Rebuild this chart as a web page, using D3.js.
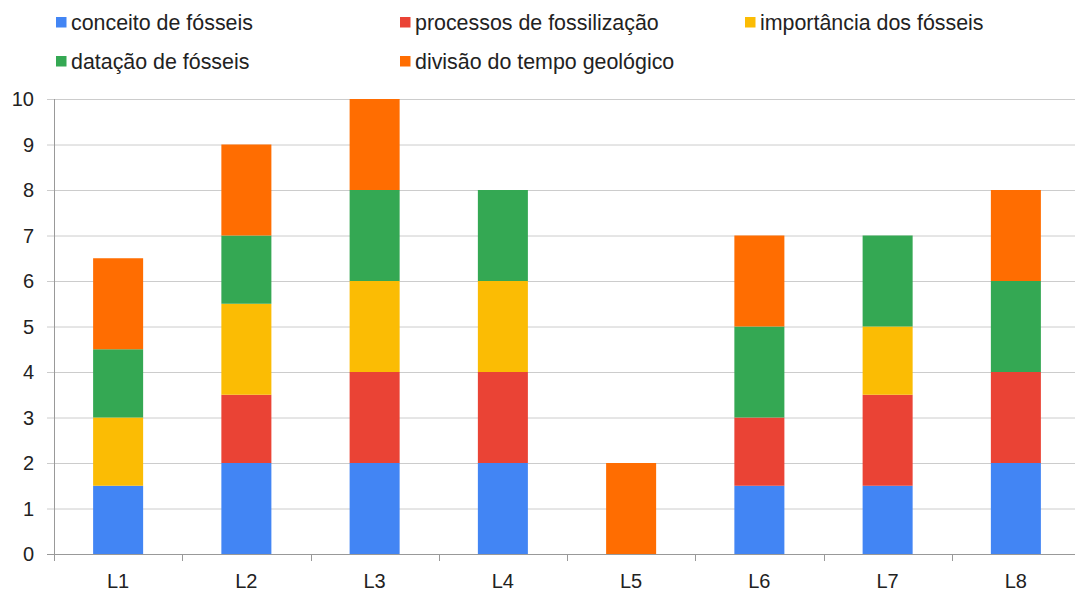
<!DOCTYPE html>
<html>
<head>
<meta charset="utf-8">
<script src="https://cdn.jsdelivr.net/npm/d3@7"></script>
<style>
  body { margin: 0; background: #fff; }
  text { font-family: "Liberation Sans", Arial, sans-serif; fill: #222; }
</style>
</head>
<body>
<svg id="chart" width="1075" height="592"></svg>
<script>
// categorias e séries
const categories = ["L1", "L2", "L3", "L4", "L5", "L6", "L7", "L8"]
const seriesNames = ["conceito de fósseis", "processos de fossilização", "importância dos fósseis", "datação de fósseis", "divisão do tempo geológico"]
const conceito    = [1.5, 2,   2, 2, 0, 1.5, 1.5, 2]
const processos   = [0,   1.5, 2, 2, 0, 1.5, 2,   2]
const importancia = [1.5, 2,   2, 2, 0, 0,   1.5, 0]
const datacao     = [1.5, 1.5, 2, 2, 0, 2,   2,   2]
const divisao     = [2,   2,   2, 0, 2, 2,   0,   2]
const yTicks = [0, 1, 2, 3, 4, 5, 6, 7, 8, 9, 10]
const colors = ["#4285F4", "#EA4335", "#FBBC04", "#34A853", "#FF6D01"]

let svg = d3.select("#chart")

let rows = categories.map((c, i) => {
	let r = { cat: c }
	r[seriesNames[0]] = conceito[i]
	r[seriesNames[1]] = processos[i]
	r[seriesNames[2]] = importancia[i]
	r[seriesNames[3]] = datacao[i]
	r[seriesNames[4]] = divisao[i]
	return r
})
let stacked = d3.stack().keys(seriesNames)(rows)

let pLeft = 54, pRight = 1080, pTop = 99, pBottom = 554

let x = d3.scaleBand().domain(categories).range([pLeft, pRight]).paddingInner(0.61).paddingOuter(0.305)
let xb = d3.scaleBand().domain(categories).range([pLeft, pRight])
let y = d3.scaleLinear().domain([0, 10]).range([pBottom, pTop])

// grade
svg.append("g")
	.selectAll("line")
	.data(yTicks)
	.join("line")
	.attr("x1", pLeft - 7)
	.attr("x2", pRight)
	.attr("y1", d => y(d) + 0.5)
	.attr("y2", d => y(d) + 0.5)
	.attr("stroke", d => d === 0 ? "#999" : "#ccc")
	.attr("stroke-width", 1)

// rótulos y
svg.append("g")
	.selectAll("text")
	.data(yTicks)
	.join("text")
	.attr("x", 34)
	.attr("y", d => y(d))
	.attr("dy", "0.36em")
	.attr("text-anchor", "end")
	.style("font-size", "20px")
	.text(d => d)

// barras
svg.append("g")
	.selectAll("g")
	.data(stacked)
	.join("g")
	.attr("fill", (d, i) => colors[i])
	.selectAll("rect")
	.data(d => d)
	.join("rect")
	.attr("x", d => x(d.data.cat))
	.attr("width", x.bandwidth())
	.attr("y", d => y(d[1]))
	.attr("height", d => y(d[0]) - y(d[1]))

// eixos
svg.append("line")
	.attr("x1", pLeft + 0.5).attr("x2", pLeft + 0.5)
	.attr("y1", pTop).attr("y2", pBottom + 7)
	.attr("stroke", "#999")

svg.append("g")
	.selectAll("line")
	.data(categories.slice(1))
	.join("line")
	.attr("x1", d => Math.round(xb(d)) + 0.5)
	.attr("x2", d => Math.round(xb(d)) + 0.5)
	.attr("y1", pBottom)
	.attr("y2", pBottom + 7)
	.attr("stroke", "#999")

svg.append("g")
	.selectAll("text")
	.data(categories)
	.join("text")
	.attr("x", d => xb(d) + xb.bandwidth() / 2)
	.attr("y", 580.5)
	.attr("dy", "0.36em")
	.attr("text-anchor", "middle")
	.style("font-size", "20px")
	.text(d => d)

// legenda
let legendPos = [[56, 22], [400, 22], [745, 22], [56, 61], [400, 61]]
let legend = svg.append("g")
	.selectAll("g")
	.data(seriesNames)
	.join("g")
	.attr("transform", (d, i) => "translate(" + legendPos[i][0] + "," + legendPos[i][1] + ")")

legend.append("rect")
	.attr("x", 0).attr("y", -5)
	.attr("width", 10.5).attr("height", 10.5)
	.attr("fill", (d, i) => colors[i])

legend.append("text")
	.attr("x", 15)
	.attr("y", 0)
	.attr("dy", "0.36em")
	.style("font-size", "21.4px")
	.text(d => d)
</script>
</body>
</html>
